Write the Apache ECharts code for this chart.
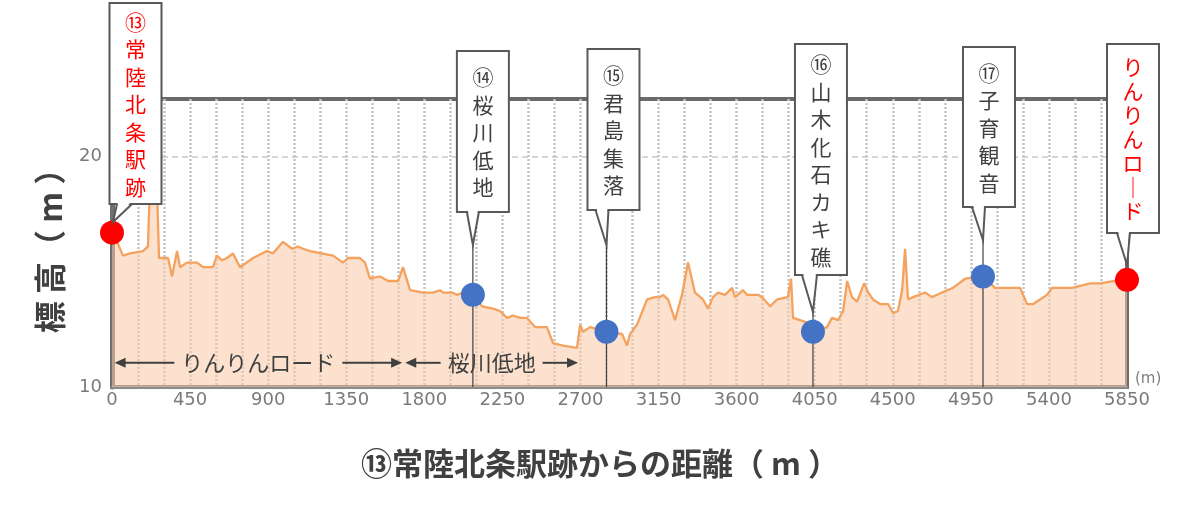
<!DOCTYPE html>
<html>
<head>
<meta charset="utf-8">
<title>標高断面図</title>
<script src="https://cdn.jsdelivr.net/npm/echarts@6/dist/echarts.min.js"></script>
<style>
html, body { margin: 0; padding: 0; background: #fff; }
#main { width: 1200px; height: 506px; }
</style>
</head>
<body>
<div id="main"></div>
<script>
// ⑬からの距離 (m)
const distance = [0, 35, 63, 104, 179, 207, 219, 259, 271, 323, 346, 375, 392, 432, 490, 525, 582, 605, 634, 663,
  697, 738, 813, 893, 928, 986, 1038, 1072, 1101, 1141, 1274, 1331, 1360, 1429, 1458, 1487, 1545, 1591, 1649, 1677,
  1718, 1793, 1850, 1891, 1908, 1960, 1989, 2023, 2081, 2133, 2196, 2236, 2277, 2311, 2352, 2392, 2438, 2507, 2542, 2600,
  2680, 2698, 2715, 2755, 2847, 2940, 2968, 2986, 3026, 3084, 3130, 3159, 3176, 3205, 3245, 3285, 3320, 3360, 3406, 3435,
  3464, 3493, 3533, 3574, 3591, 3637, 3660, 3724, 3747, 3793, 3833, 3896, 3914, 3925, 3966, 4006, 4041, 4121, 4150, 4185,
  4214, 4237, 4265, 4294, 4335, 4358, 4386, 4427, 4473, 4502, 4530, 4554, 4571, 4588, 4617, 4686, 4726, 4784, 4847, 4917,
  5020, 5090, 5118, 5159, 5205, 5234, 5274, 5309, 5349, 5389, 5418, 5464, 5533, 5637, 5695, 5770, 5850];
// 標高 (m)
const elevation = [16.6, 16.2, 15.7, 15.8, 15.9, 16.1, 18.8, 18.8, 15.6, 15.6, 14.8, 15.9, 15.2, 15.4, 15.4, 15.2, 15.2, 15.7, 15.5, 15.6,
  15.8, 15.2, 15.6, 15.9, 15.8, 16.3, 16.0, 16.1, 16.0, 15.9, 15.7, 15.4, 15.6, 15.6, 15.4, 14.7, 14.8, 14.6, 14.6, 15.2,
  14.2, 14.1, 14.1, 14.2, 14.1, 14.1, 14.0, 14.1, 14.0, 13.5, 13.4, 13.3, 13.0, 13.1, 13.0, 13.0, 12.6, 12.6, 11.9, 11.8,
  11.7, 12.7, 12.4, 12.6, 12.4, 12.3, 11.8, 12.3, 12.7, 13.8, 13.9, 13.9, 14.0, 13.8, 12.9, 14.0, 15.4, 14.1, 13.8, 13.4,
  13.9, 14.1, 14.0, 14.3, 13.9, 14.2, 14.0, 14.0, 13.9, 13.5, 13.8, 13.9, 14.7, 13.0, 12.9, 12.8, 12.4, 12.6, 13.0, 12.9,
  13.3, 14.6, 13.9, 13.7, 14.5, 14.1, 13.8, 13.6, 13.6, 13.2, 13.3, 14.2, 16.0, 13.8, 13.9, 14.1, 13.9, 14.1, 14.3, 14.7,
  14.8, 14.3, 14.3, 14.3, 14.3, 14.3, 13.6, 13.6, 13.8, 14.0, 14.3, 14.3, 14.3, 14.5, 14.5, 14.6, 14.6];

// 地点
const stopNames = ['⑬常陸北条駅跡', '⑭桜川低地', '⑮君島集落', '⑯山木化石カキ礁', '⑰子育観音', 'りんりんロード'];
const stopDist = [0, 2080, 2850, 4040, 5020, 5850];
const stopElev = [16.7, 14.0, 12.4, 12.4, 14.8, 14.65];

// 区間
const sectionNames = ['りんりんロード', '桜川低地'];
const sectionFrom = [15, 1690];
const sectionTo = [1672, 2686];

// 目盛
const xTicks = [0, 450, 900, 1350, 1800, 2250, 2700, 3150, 3600, 4050, 4500, 4950, 5400, 5850];
const yTicks = [10, 20];

// 吹き出しの配置 (px)
const calloutLayout = [
  { dx: 23.5, top: 3, bottom: 204, tail: [5, 20], tipDx: 1, tipY: 222, line: false, color: '#ff0000', lh: 27.5 },
  { dx: 10, top: 51, bottom: 212, tail: [-6, 6], tipDx: 0, tipY: 245, line: true, color: '#404040', lh: 27.5 },
  { dx: 7, top: 49, bottom: 210, tail: [-11, 2], tipDx: 0, tipY: 245, line: true, color: '#404040', lh: 27.5 },
  { dx: 8, top: 44, bottom: 275, tail: [-11, 4], tipDx: 0, tipY: 312, line: true, color: '#404040', lh: 27.5 },
  { dx: 6, top: 47, bottom: 207, tail: [-11, 2], tipDx: 0, tipY: 240, line: true, color: '#404040', lh: 27.5 },
  { dx: 6, top: 44, bottom: 233, tail: [-10, 3], tipDx: 0, tipY: 265, line: false, color: '#ff0000', lh: 24 }
];
const arrowElev = 11.05;

const FONT = '"Noto Sans CJK JP", "Noto Sans CJK SC", sans-serif';
const chart = echarts.init(document.getElementById('main'));

const option = {
  animation: false,
  title: {
    text: '⑬常陸北条駅跡からの距離（ m ）',
    left: 'center',
    top: 443,
    textStyle: { fontFamily: FONT, fontSize: 31, fontWeight: 'bold', color: '#404040' }
  },
  grid: {
    left: 112, right: 73, top: 99, bottom: 119,
    show: true, borderColor: '#6a6a6a', borderWidth: 4, backgroundColor: 'transparent'
  },
  xAxis: {
    type: 'value',
    min: 0, max: 5850, interval: 150,
    name: '(m)',
    nameLocation: 'end',
    nameGap: 8,
    nameTextStyle: { fontFamily: 'DejaVu Sans', fontSize: 15, color: '#808080', verticalAlign: 'bottom' },
    axisLine: { lineStyle: { color: '#8a8a8a', width: 3 } },
    axisTick: { show: false },
    axisLabel: {
      margin: 4,
      fontFamily: 'DejaVu Sans', fontSize: 18, color: '#7a7a7a',
      formatter: (v) => (xTicks.indexOf(v) >= 0 ? String(v) : '')
    },
    splitLine: {
      show: true, showMinLine: false, showMaxLine: false,
      lineStyle: { color: '#c4c4c4', width: 2.5, type: [2, 2] }
    }
  },
  yAxis: [{
    type: 'value',
    min: 10, max: 22.5, interval: 10,
    name: '標 高（ m ）',
    nameLocation: 'middle',
    nameRotate: 90,
    nameGap: 46,
    nameTextStyle: { fontFamily: FONT, fontSize: 32, fontWeight: 'bold', color: '#404040' },
    axisLine: { show: true, lineStyle: { color: '#6f6f6f', width: 5 } },
    axisTick: { show: false },
    axisLabel: {
      margin: 10, showMaxLabel: false,
      fontFamily: 'DejaVu Sans', fontSize: 18, color: '#7a7a7a',
      formatter: (v) => (yTicks.indexOf(v) >= 0 ? String(v) : '')
    },
    splitLine: {
      show: true, showMinLine: false, showMaxLine: false,
      lineStyle: { color: '#c8c8c8', width: 1.5, type: [6, 4] }
    }
  }, {
    // 右枠
    type: 'value',
    position: 'right',
    min: 10, max: 22.5, interval: 10,
    axisLine: { show: true, lineStyle: { color: '#6f6f6f', width: 4 } },
    axisTick: { show: false },
    axisLabel: { show: false },
    splitLine: { show: false }
  }],
  series: [{
    name: '標高',
    type: 'line',
    data: distance.map((d, i) => [d, elevation[i]]),
    showSymbol: false,
    lineStyle: { color: '#f4a25e', width: 2.3 },
    areaStyle: { color: '#f8c9a5', opacity: 0.55 },
    z: 2
  }, {
    name: '地点',
    type: 'scatter',
    clip: false,
    symbolSize: 24,
    data: stopDist.map((d, i) => ({
      value: [d, stopElev[i]],
      itemStyle: { color: (i === 0 || i === stopDist.length - 1) ? '#ff0000' : '#4472c4', opacity: 1 }
    })),
    z: 5
  }]
};
chart.setOption(option);

// 吹き出しと区間矢印
function drawNotes() {
  const els = [];
  const base = chart.convertToPixel({ gridIndex: 0 }, [0, 10])[1];
  stopNames.forEach((name, i) => {
    const p = chart.convertToPixel({ gridIndex: 0 }, [stopDist[i], stopElev[i]]);
    const L = calloutLayout[i];
    const w = 52;
    const cx = p[0] + L.dx;
    const tipX = p[0] + L.tipDx;
    if (L.line) {
      els.push({ type: 'line', z: 3, shape: { x1: p[0], y1: L.tipY, x2: p[0], y2: base },
        style: { stroke: '#404040', lineWidth: 1.2 } });
    }
    els.push({ type: 'rect', z: 20, shape: { x: cx - w / 2, y: L.top, width: w, height: L.bottom - L.top },
      style: { fill: '#fff', stroke: '#595959', lineWidth: 2 } });
    els.push({ type: 'polygon', z: 21,
      shape: { points: [[p[0] + L.tail[0] + 1, L.bottom - 2], [tipX, L.tipY], [p[0] + L.tail[1] - 1, L.bottom - 2]] },
      style: { fill: '#fff' } });
    els.push({ type: 'polyline', z: 22,
      shape: { points: [[p[0] + L.tail[0], L.bottom], [tipX, L.tipY], [p[0] + L.tail[1], L.bottom]] },
      style: { stroke: '#595959', lineWidth: 2, fill: null } });
    els.push({ type: 'text', z: 23, style: {
      text: Array.from(name).map((c) => (c === 'ー' ? '｜' : c)).join('\n'),
      x: cx, y: (L.top + L.bottom) / 2 + 1,
      align: 'center', verticalAlign: 'middle',
      fill: L.color, font: '21px ' + FONT, lineHeight: L.lh
    } });
  });

  sectionNames.forEach((name, i) => {
    const a = chart.convertToPixel({ gridIndex: 0 }, [sectionFrom[i], arrowElev]);
    const b = chart.convertToPixel({ gridIndex: 0 }, [sectionTo[i], arrowElev]);
    const y = a[1];
    const mid = (a[0] + b[0]) / 2;
    const half = name.length * 22 / 2 + 7;
    const st = { stroke: '#404040', lineWidth: 2 };
    els.push({ type: 'line', z: 6, shape: { x1: a[0] + 8, y1: y, x2: mid - half, y2: y }, style: st });
    els.push({ type: 'line', z: 6, shape: { x1: mid + half, y1: y, x2: b[0] - 8, y2: y }, style: st });
    els.push({ type: 'polygon', z: 6, shape: { points: [[a[0], y], [a[0] + 11, y - 5], [a[0] + 11, y + 5]] },
      style: { fill: '#404040' } });
    els.push({ type: 'polygon', z: 6, shape: { points: [[b[0], y], [b[0] - 11, y - 5], [b[0] - 11, y + 5]] },
      style: { fill: '#404040' } });
    els.push({ type: 'text', z: 6, style: {
      text: name, x: mid, y: y,
      align: 'center', verticalAlign: 'middle',
      fill: '#404040', font: '22px ' + FONT
    } });
  });
  chart.setOption({ graphic: { elements: els } });
}
drawNotes();
</script>
</body>
</html>
